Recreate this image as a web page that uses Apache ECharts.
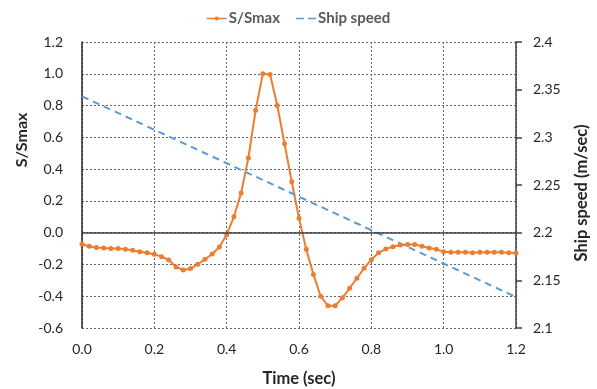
<!DOCTYPE html>
<html>
<head>
<meta charset="utf-8">
<script src="https://cdn.jsdelivr.net/npm/echarts@6/dist/echarts.min.js"></script>
<style>
html,body{margin:0;padding:0;background:#fff;}
#chart{width:597px;height:389px;}
</style>
</head>
<body>
<div id="chart"></div>
<script>
// ---- data ----
var times = [0.00,0.02,0.04,0.06,0.08,0.10,0.12,0.14,0.16,0.18,0.20,0.22,0.24,0.26,0.28,0.30,0.32,0.34,0.36,0.38,0.40,0.42,0.44,0.46,0.48,0.50,0.52,0.54,0.56,0.58,0.60,0.62,0.64,0.66,0.68,0.70,0.72,0.74,0.76,0.78,0.80,0.82,0.84,0.86,0.88,0.90,0.92,0.94,0.96,0.98,1.00,1.02,1.04,1.06,1.08,1.10,1.12,1.14,1.16,1.18,1.20];
var sRatio = [-0.073,-0.086,-0.094,-0.096,-0.100,-0.100,-0.105,-0.111,-0.120,-0.126,-0.136,-0.151,-0.172,-0.216,-0.235,-0.226,-0.199,-0.168,-0.134,-0.090,-0.013,0.100,0.250,0.470,0.770,1.000,0.995,0.800,0.560,0.320,0.090,-0.105,-0.264,-0.400,-0.460,-0.460,-0.410,-0.350,-0.287,-0.224,-0.170,-0.126,-0.103,-0.088,-0.078,-0.075,-0.075,-0.086,-0.096,-0.105,-0.120,-0.124,-0.124,-0.124,-0.126,-0.124,-0.124,-0.124,-0.124,-0.126,-0.128];
var speedTimes = [0.0, 1.2];
var shipSpeed = [2.343, 2.1325];
var leftTicks = {min:-0.6, max:1.2, interval:0.2};
var rightTicks = {min:2.1, max:2.4, interval:0.05};
var xTicks = {min:0, max:1.2, interval:0.2};

var sData = times.map(function(t,i){return [t, sRatio[i]];});
var vData = speedTimes.map(function(t,i){return [t, shipSpeed[i]];});

var FONT = 'Lato, "Open Sans", sans-serif';
var chart = echarts.init(document.getElementById('chart'), null, {renderer:'canvas'});
chart.setOption({
  animation:false,
  backgroundColor:'#fff',
  textStyle:{fontFamily:FONT},
  grid:{left:82, right:81, top:42, bottom:61, containLabel:false},
  legend:{
    data:[
      {name:'S/Smax', icon:'path://M0,4.2H20V5.8H0Z M8,5A2,2 0 1,1 12,5A2,2 0 1,1 8,5Z'},
      {name:'Ship speed', icon:'path://M0,4.2H8V5.8H0Z M12,4.2H20V5.8H12Z'}
    ],
    top:6, left:'center',
    itemWidth:20, itemHeight:10, itemGap:16,
    textStyle:{fontFamily:FONT, fontSize:15, fontWeight:'bold', color:'#595959', padding:[0,0,0,-3]}
  },
  xAxis:{
    type:'value', min:xTicks.min, max:xTicks.max, interval:xTicks.interval,
    axisLine:{show:false},
    axisTick:{show:false},
    axisLabel:{margin:14, fontSize:14, color:'#262626', fontFamily:FONT,
      formatter:function(v){return v.toFixed(1);}},
    splitLine:{show:true, lineStyle:{color:'#666', type:[2,2], width:1}}
  },
  yAxis:[{
    type:'value', min:leftTicks.min, max:leftTicks.max, interval:leftTicks.interval,
    axisLine:{show:true, lineStyle:{color:'#262626', width:1.5}},
    axisTick:{show:false},
    axisLabel:{margin:19, fontSize:14, color:'#262626', fontFamily:FONT,
      formatter:function(v){return v.toFixed(1);}},
    splitLine:{show:true, lineStyle:{color:'#666', type:[2,2], width:1}}
  },{
    type:'value', min:rightTicks.min, max:rightTicks.max, interval:rightTicks.interval,
    position:'right',
    axisLine:{show:true, lineStyle:{color:'#404040', width:1.5}},
    axisTick:{show:true, inside:false, length:6, lineStyle:{color:'#404040', width:1.5}},
    axisLabel:{margin:17, fontSize:14, color:'#262626', fontFamily:FONT},
    splitLine:{show:false}
  }],
  graphic:[
    {type:'text', rotation:Math.PI/2, position:[22,140],
     style:{text:'S/Smax', font:'bold 16px '+FONT, fill:'#262626', align:'center', verticalAlign:'middle'}},
    {type:'text', rotation:Math.PI/2, position:[582,193],
     style:{text:'Ship speed (m/sec)', font:'bold 16.5px '+FONT, fill:'#262626', align:'center', verticalAlign:'middle'}},
    {type:'text', position:[299,379],
     style:{text:'Time (sec)', font:'bold 16.5px '+FONT, fill:'#262626', align:'center', verticalAlign:'middle'}}
  ],
  series:[{
    name:'zero', type:'line', data:[], silent:true, yAxisIndex:0,
    markLine:{silent:true, symbol:'none', label:{show:false},
      lineStyle:{color:'#404040', type:'solid', width:1.5},
      data:[{yAxis:0}]}
  },{
    name:'S/Smax', type:'line', yAxisIndex:0, data:sData,
    color:'#ED7D31',
    lineStyle:{color:'#ED7D31', width:2},
    itemStyle:{color:'#ED7D31'},
    symbol:'circle', symbolSize:5, showSymbol:true
  },{
    name:'Ship speed', type:'line', yAxisIndex:1, data:vData,
    color:'#5B9BD5',
    lineStyle:{color:'#5B9BD5', width:2, type:[7,5]},
    itemStyle:{color:'#5B9BD5'},
    symbol:'none'
  }]
});
</script>
</body>
</html>
